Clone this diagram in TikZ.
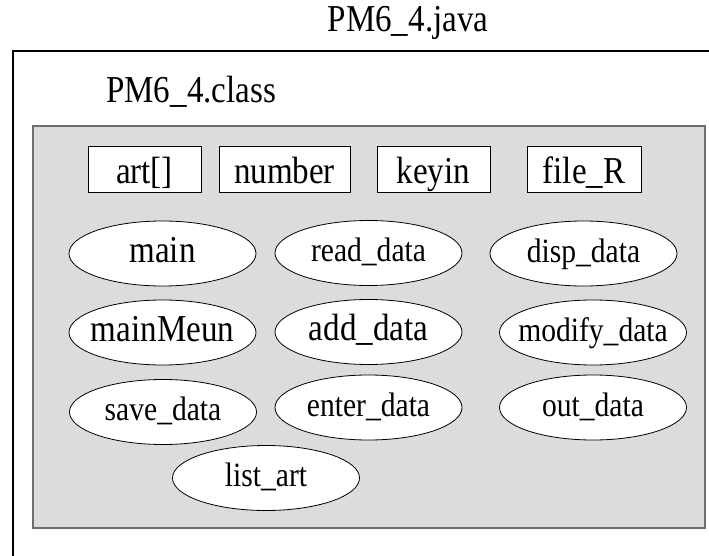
\documentclass[tikz,border=0pt]{standalone}
\usepackage{fontspec}
\setmainfont{Liberation Serif}[FakeStretch=0.87]
\usetikzlibrary{shapes.geometric}
\definecolor{panelgray}{HTML}{DCDCDC}
\definecolor{panelline}{HTML}{6E6E6E}
\tikzset{
	fieldbox/.style={draw=black, fill=white, line width=0.9pt, minimum width=#1, minimum height=46pt, inner sep=0pt, text height=30pt, text depth=0pt},
	methodoval/.style={ellipse, draw=black, fill=white, line width=0.8pt, minimum width=187pt, minimum height=65pt, inner ysep=0pt, inner xsep=-20pt, text height=17pt, text depth=0pt},
	bigtext/.style={font=\fontsize{38}{42}\selectfont},
	smalltext/.style={font=\fontsize{34}{38}\selectfont}
}

\begin{document}
\begin{tikzpicture}[x=1pt, y=-1pt, bigtext]
			%%%%% START %%%%%
			\useasboundingbox (0, 0) rectangle (709, 556);
			
			\node[anchor=base, inner sep=0pt] (javaname) at (408, 32) {PM6\_4.java};
			\draw[line width=2pt] (709, 51) -- (13, 51) -- (13, 556);
			
			\node[anchor=base west, inner sep=0pt] (classname) at (106, 103) {PM6\_4.class};
			\draw[fill=panelgray, draw=panelline, line width=1.2pt] (33, 126) rectangle (705, 528);
			
			\node[fieldbox=113pt] (art) at (144.5, 169) {art[]};
			\node[fieldbox=131pt] (number) at (284.5, 169) {number};
			\node[fieldbox=113pt] (keyin) at (433.5, 169) {keyin};
			\node[fieldbox=114pt] (fileR) at (584, 169) {file\_R};
			
			\node[methodoval] (main) at (162.5, 253.5) {main};
			\node[methodoval, smalltext] (readdata) at (368.5, 253) {read\_data};
			\node[methodoval, smalltext] (dispdata) at (583.5, 253.5) {disp\_data};
			
			\node[methodoval] (mainmeun) at (162.5, 332.5) {mainMeun};
			\node[methodoval] (adddata) at (368.5, 332) {add\_data};
			\node[methodoval, smalltext] (modifydata) at (593, 332.5) {modify\_data};
			
			\node[methodoval, smalltext] (savedata) at (163, 412) {save\_data};
			\node[methodoval, smalltext] (enterdata) at (368.5, 407.5) {enter\_data};
			\node[methodoval, smalltext] (outdata) at (593, 407.5) {out\_data};
			
			\node[methodoval, smalltext] (listart) at (266, 478) {list\_art};
			%%%%% END %%%%%
\end{tikzpicture}
\end{document}
